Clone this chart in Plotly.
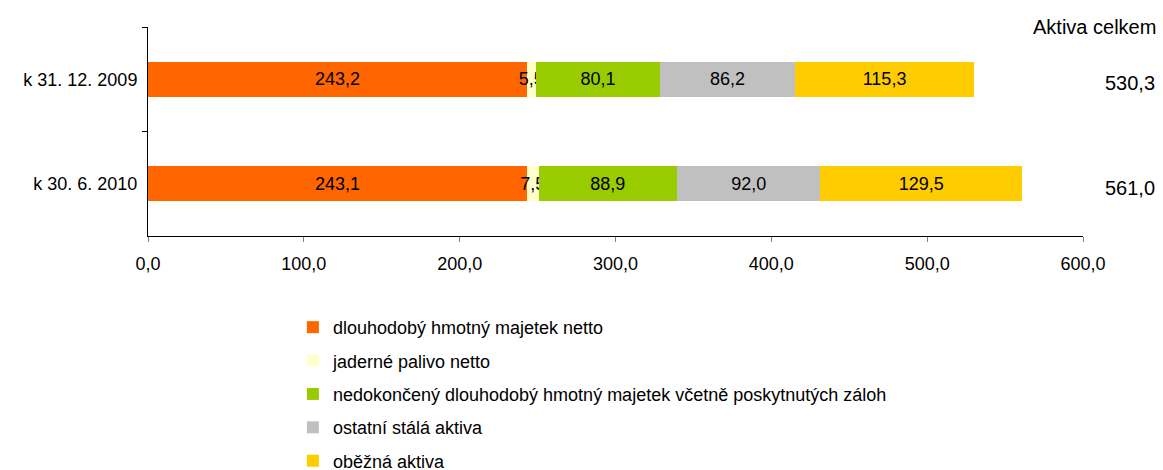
import plotly.graph_objects as go

categories = ["k 31. 12. 2009", "k 30. 6. 2010"]
series_names = [
    "dlouhodobý hmotný majetek netto",
    "jaderné palivo netto",
    "nedokončený dlouhodobý hmotný majetek včetně poskytnutých záloh",
    "ostatní stálá aktiva",
    "oběžná aktiva",
]
series_values = [
    [243.2, 243.1],
    [5.5, 7.5],
    [80.1, 88.9],
    [86.2, 92.0],
    [115.3, 129.5],
]
colors = ["#FF6600", "#FFFFCC", "#99CC00", "#C0C0C0", "#FFCC00"]
totals = [530.3, 561.0]
totals_title = "Aktiva celkem"
x_ticks = [0, 100, 200, 300, 400, 500, 600]

FONT = "Liberation Sans, Arial, sans-serif"
FS = 18

fig = go.Figure()
for i, (name, vals) in enumerate(zip(series_names, series_values)):
    fig.add_trace(go.Bar(
        y=categories, x=vals, name=name, orientation="h",
        marker=dict(color=colors[i], line=dict(width=0)),
        text=vals, texttemplate="%{x:.1f}", textposition="inside",
        insidetextanchor="middle", textangle=0,
        textfont=dict(size=FS, color="black", family=FONT),
        legendgroup=str(i), cliponaxis=False, hoverinfo="skip",
    ))

annotations = []
for cat, t in zip(categories, totals):
    annotations.append(dict(
        x=1.0, xref="paper", xshift=47, y=cat, yref="y", yshift=-4,
        text=f"{t:.1f}".replace(".", ","), showarrow=False,
        font=dict(size=20, color="black", family=FONT), xanchor="center",
    ))
annotations.append(dict(
    x=1.0, xref="paper", xshift=11, y=1.0, yref="paper",
    text=totals_title, showarrow=False, xanchor="center", yanchor="middle",
    font=dict(size=20, color="black", family=FONT),
))

fig.update_layout(
    width=1163, height=470,
    barmode="stack", bargap=0.665,
    separators=", ",
    paper_bgcolor="white", plot_bgcolor="white",
    margin=dict(l=148, r=80, t=27, b=234, autoexpand=False),
    font=dict(family=FONT, size=FS, color="black"),
    showlegend=True,
    legend=dict(
        x=0.155, y=-0.349, xanchor="left", yanchor="top",
        orientation="v", traceorder="grouped", tracegroupgap=7,
        font=dict(size=FS, family=FONT, color="black"),
        itemclick=False, itemdoubleclick=False,
    ),
    annotations=annotations,
    uniformtext=dict(minsize=FS, mode="show"),
)
fig.update_xaxes(
    range=[0, 600], tickvals=x_ticks, tickformat=".1f",
    showgrid=False, zeroline=False, showline=True, linecolor="black", linewidth=1,
    ticks="outside", ticklen=5, tickcolor="#808080",
    ticklabelstandoff=6,
    tickfont=dict(size=FS, family=FONT, color="black"),
)
fig.update_yaxes(
    autorange="reversed", showgrid=False, zeroline=False,
    showline=True, linecolor="black", linewidth=1,
    ticks="outside", ticklen=5, tickcolor="black", tickson="boundaries",
    ticklabelstandoff=6,
    tickfont=dict(size=FS, family=FONT, color="black"),
)

fig.write_html(
    "out.html",
    config={"displayModeBar": False, "staticPlot": True},
    post_script="document.body.style.margin='0';document.body.style.overflow='hidden';",
)
